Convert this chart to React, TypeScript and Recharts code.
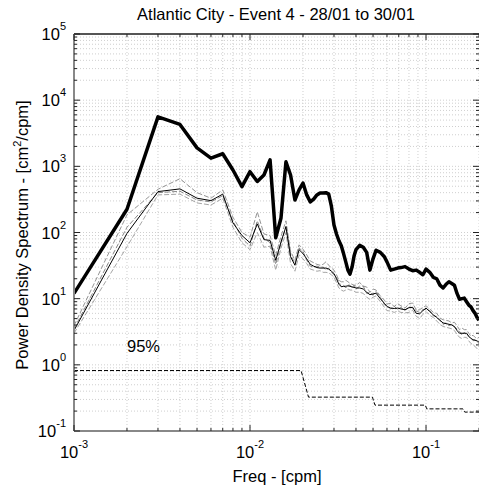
import React from 'react';
import { LineChart, Line, XAxis, YAxis, CartesianGrid } from 'recharts';

const FREQ = [
  0.001, 0.002, 0.003, 0.004, 0.005, 0.006, 0.007, 0.008, 0.009, 0.010,
  0.011, 0.012, 0.013, 0.014, 0.015, 0.016, 0.017, 0.018, 0.019, 0.020,
  0.021, 0.022, 0.023, 0.024, 0.025, 0.026, 0.027, 0.028, 0.029, 0.030,
  0.031, 0.032, 0.033, 0.034, 0.035, 0.036, 0.037, 0.038, 0.039, 0.040,
  0.042, 0.044, 0.046, 0.048, 0.050, 0.052, 0.055, 0.058, 0.060, 0.063,
  0.066, 0.069, 0.072, 0.076, 0.080, 0.084, 0.088, 0.092, 0.096, 0.100,
  0.105, 0.110, 0.115, 0.120, 0.125, 0.130, 0.135, 0.140, 0.145, 0.150,
  0.155, 0.160, 0.165, 0.170, 0.175, 0.180, 0.185, 0.190, 0.195, 0.200,
];

const EVENT_PSD = [
  12, 225, 5600, 4300, 1900, 1330, 1550, 880, 494, 830,
  590, 740, 1250, 83, 166, 1170, 740, 310, 440, 560,
  370, 290, 320, 370, 396, 396, 400, 380, 250, 130,
  95, 75, 63, 48, 36, 27, 23.5, 30, 44, 55,
  64, 60, 50, 27, 40, 54, 50, 43, 36, 27,
  28, 29, 29.5, 30.5, 28, 26.5, 27, 25, 23, 28,
  25, 21, 20, 16, 14.5, 16.5, 18, 17, 16, 12,
  9.8, 10, 10.2, 9, 8, 7.5, 6.6, 6.0, 5.2, 4.7,
];

const MEAN_PSD = [
  3.3, 97, 415, 456, 330, 303, 380, 140, 90, 70,
  135, 78, 76, 38, 72, 122, 43, 32, 55, 48,
  40, 33, 31, 29.5, 29, 29, 29, 28, 26, 24,
  20, 16.5, 15.2, 15.3, 15.4, 15.6, 15.4, 15, 14.8, 14.5,
  14.5, 14, 12.5, 11.5, 11.8, 12.1, 10, 8.5, 7.6, 7.2,
  7.1, 7.2, 7.0, 6.8, 7.3, 7.4, 6.0, 5.9, 6.6, 7.2,
  6.4, 5.7, 5.2, 4.7, 4.3, 4.2, 4.1, 4.0, 3.8, 3.3,
  3.0, 3.0, 3.0, 3.0, 2.7, 2.5, 2.4, 2.35, 2.3, 2.2,
];

const OTHER_A = [
  3.9, 185, 450, 650, 400, 330, 440, 170, 100, 85,
  205, 95, 90, 45, 88, 150, 52, 38, 65, 56,
  46, 37, 35, 33, 32, 33, 36, 32, 29, 27,
  23, 19, 18, 18, 19, 18, 17, 16.5, 16, 16,
  17.5, 15.5, 15, 12.5, 14, 13.5, 11, 9.5, 8.3, 8.5,
  7.6, 8.4, 7.8, 7.2, 8.4, 8.6, 6.7, 6.8, 7.4, 7.8,
  7.0, 6.2, 6.0, 5.1, 4.8, 4.7, 4.6, 4.3, 4.4, 3.9,
  3.4, 3.6, 3.4, 3.4, 3.0, 2.7, 2.8, 2.6, 2.5, 2.6,
];

const OTHER_B = [
  3.0, 61, 370, 380, 280, 260, 330, 120, 70, 55,
  100, 60, 62, 27, 58, 100, 34, 26, 46, 40,
  34, 28, 27, 26, 26.5, 25, 25, 24.5, 23, 21,
  17.5, 14.5, 13.5, 13, 13.5, 14, 13.5, 13.5, 13, 12.5,
  12.5, 12, 10.5, 9.8, 10.5, 11, 9, 7.4, 6.6, 6.5,
  6.2, 6.5, 6.2, 6.1, 6.2, 6.7, 5.4, 5.0, 5.8, 6.4,
  5.6, 5.2, 4.6, 4.1, 3.8, 3.7, 3.6, 3.5, 3.3, 2.9,
  2.6, 2.5, 2.6, 2.6, 2.3, 2.1, 2.0, 1.9, 1.75, 1.9,
];

const OTHER_C = [
  3.5, 120, 400, 420, 310, 290, 360, 150, 82, 62,
  150, 82, 70, 33, 68, 125, 46, 34, 58, 52,
  38, 31, 30, 31, 30, 30, 27, 29, 25, 23,
  21, 18, 15, 16, 14.5, 16, 16, 14.5, 16, 14,
  15.5, 15.5, 12, 12.5, 11.3, 12.8, 10.5, 8.1, 7.9, 7,
  7.7, 6.8, 7.4, 6.6, 7.6, 7.2, 6.5, 6.2, 6.8, 6.9,
  6.6, 5.5, 5.4, 4.8, 4.1, 4.3, 3.9, 4.1, 3.7, 3.5,
  3.2, 2.8, 3.1, 2.8, 2.7, 2.5, 2.3, 2.4, 2.2, 2.1,
];

const CONF_FREQ = [0.001, 0.0195, 0.0215, 0.0496, 0.0513, 0.099, 0.101, 0.162, 0.166, 0.2];
const CONF_VAL = [0.82, 0.82, 0.325, 0.325, 0.246, 0.246, 0.216, 0.216, 0.193, 0.193];

const X_DECADES = [-3, -2, -1];
const Y_DECADES = [-1, 0, 1, 2, 3, 4, 5];
const X_MIN = 0.001;
const X_MAX = 0.2;

const clean = (v: number) => Number(v.toPrecision(10));

const X_TICKS: number[] = [];
X_DECADES.forEach((e) => {
  for (let m = 1; m <= 9; m++) {
    const v = clean(m * Math.pow(10, e));
    if (v >= X_MIN - 1e-12 && v <= X_MAX + 1e-12) X_TICKS.push(v);
  }
});

const Y_TICKS: number[] = [];
Y_DECADES.forEach((e) => {
  for (let m = 1; m <= 9; m++) {
    const v = clean(m * Math.pow(10, e));
    if (v <= 1e5 + 1e-9) Y_TICKS.push(v);
  }
});

const rows = FREQ.map((f, i) => ({
  f,
  event: EVENT_PSD[i],
  mean: MEAN_PSD[i],
  a: OTHER_A[i],
  b: OTHER_B[i],
  c: OTHER_C[i],
}));

const confRows = CONF_FREQ.map((f, i) => ({ f, conf: CONF_VAL[i] }));

const FONT = '"Liberation Sans", Arial, Helvetica, sans-serif';

const isMajor = (v: number) => {
  const e = Math.round(Math.log10(v));
  return Math.abs(v / Math.pow(10, e) - 1) < 1e-6;
};

const XTickBottom = (props: any) => {
  const { x, y, payload } = props;
  const v = payload.value;
  const major = isMajor(v);
  const e = Math.round(Math.log10(v));
  return (
    <g>
      <line x1={x} x2={x} y1={y} y2={y - (major ? 6 : 3)} stroke="#222" strokeWidth={1} />
      {major && (
        <text x={x} y={y + 27} textAnchor="middle" fontSize={16.5} fontFamily={FONT} fill="#000">
          10
          <tspan dy={-10} fontSize={11}>{e}</tspan>
        </text>
      )}
    </g>
  );
};

const XTickTop = (props: any) => {
  const { x, y, payload } = props;
  const major = isMajor(payload.value);
  return <line x1={x} x2={x} y1={y} y2={y + (major ? 6 : 3)} stroke="#222" strokeWidth={1} />;
};

const YTickLeft = (props: any) => {
  const { x, y, payload } = props;
  const v = payload.value;
  const major = isMajor(v);
  const e = Math.round(Math.log10(v));
  return (
    <g>
      <line x1={x} x2={x + (major ? 6 : 3)} y1={y} y2={y} stroke="#222" strokeWidth={1} />
      {major && (
        <text x={x - 8} y={y + 6} textAnchor="end" fontSize={16.5} fontFamily={FONT} fill="#000">
          10
          <tspan dy={-10} fontSize={11}>{e}</tspan>
        </text>
      )}
    </g>
  );
};

const YTickRight = (props: any) => {
  const { x, y, payload } = props;
  const major = isMajor(payload.value);
  return <line x1={x} x2={x - (major ? 6 : 3)} y1={y} y2={y} stroke="#222" strokeWidth={1} />;
};

export default function App() {
  return (
    <div style={{ position: 'absolute', left: 0, top: 0, width: 479, height: 494, background: '#fff' }}>
      <LineChart width={479} height={494} data={rows} margin={{ top: 33, right: -1, bottom: 0, left: 0 }}>
        <CartesianGrid stroke="#cfcfcf" strokeDasharray="1 2" />
        <XAxis
          dataKey="f"
          type="number"
          scale="log"
          domain={[X_MIN, X_MAX]}
          allowDataOverflow
          ticks={X_TICKS}
          interval={0}
          height={63}
          tickSize={0}
          tickMargin={0}
          tick={<XTickBottom />}
          axisLine={{ stroke: '#888', strokeWidth: 2 }}
          tickLine={false}
        />
        <XAxis
          xAxisId="top"
          orientation="top"
          dataKey="f"
          type="number"
          scale="log"
          domain={[X_MIN, X_MAX]}
          allowDataOverflow
          ticks={X_TICKS}
          interval={0}
          height={1}
          tickSize={0}
          tickMargin={0}
          tick={<XTickTop />}
          axisLine={{ stroke: '#555', strokeWidth: 2 }}
          tickLine={false}
        />
        <YAxis
          type="number"
          scale="log"
          domain={[0.1, 100000]}
          allowDataOverflow
          ticks={Y_TICKS}
          interval={0}
          width={74}
          tickSize={0}
          tickMargin={0}
          tick={<YTickLeft />}
          axisLine={{ stroke: '#888', strokeWidth: 2 }}
          tickLine={false}
        />
        <YAxis
          yAxisId="right"
          orientation="right"
          type="number"
          scale="log"
          domain={[0.1, 100000]}
          allowDataOverflow
          ticks={Y_TICKS}
          interval={0}
          width={1}
          tickSize={0}
          tickMargin={0}
          tick={<YTickRight />}
          axisLine={false}
          tickLine={false}
        />
        <Line dataKey="a" stroke="#959595" strokeWidth={1} strokeDasharray="5 2" dot={false} isAnimationActive={false} />
        <Line dataKey="b" stroke="#a5a5a5" strokeWidth={1} strokeDasharray="5 2" dot={false} isAnimationActive={false} />
        <Line dataKey="c" stroke="#888888" strokeWidth={1} strokeDasharray="5 2" dot={false} isAnimationActive={false} />
        <Line dataKey="mean" stroke="#000" strokeWidth={1} dot={false} isAnimationActive={false} />
        <Line dataKey="event" stroke="#000" strokeWidth={3.5} strokeLinejoin="round" dot={false} isAnimationActive={false} />
        <Line data={confRows} dataKey="conf" stroke="#000" strokeWidth={1} strokeDasharray="4 2" dot={false} isAnimationActive={false} />
      </LineChart>
      <svg width={479} height={494} style={{ position: 'absolute', left: 0, top: 0, pointerEvents: 'none' }}>
        <text x={276} y={20} textAnchor="middle" fontSize={16.5} fontFamily={FONT} fill="#000">
          Atlantic City - Event 4 - 28/01 to 30/01
        </text>
        <text x={277} y={482} textAnchor="middle" fontSize={16.5} fontFamily={FONT} fill="#000">
          Freq - [cpm]
        </text>
        <text x={28} y={235} textAnchor="middle" fontSize={16.5} fontFamily={FONT} fill="#000" transform="rotate(-90 28 235)">
          Power Density Spectrum - [cm<tspan dy={-7} fontSize={11}>2</tspan><tspan dy={7}>/cpm]</tspan>
        </text>
        <text x={127} y={352} fontSize={16.5} fontFamily={FONT} fill="#000">95%</text>
      </svg>
    </div>
  );
}
